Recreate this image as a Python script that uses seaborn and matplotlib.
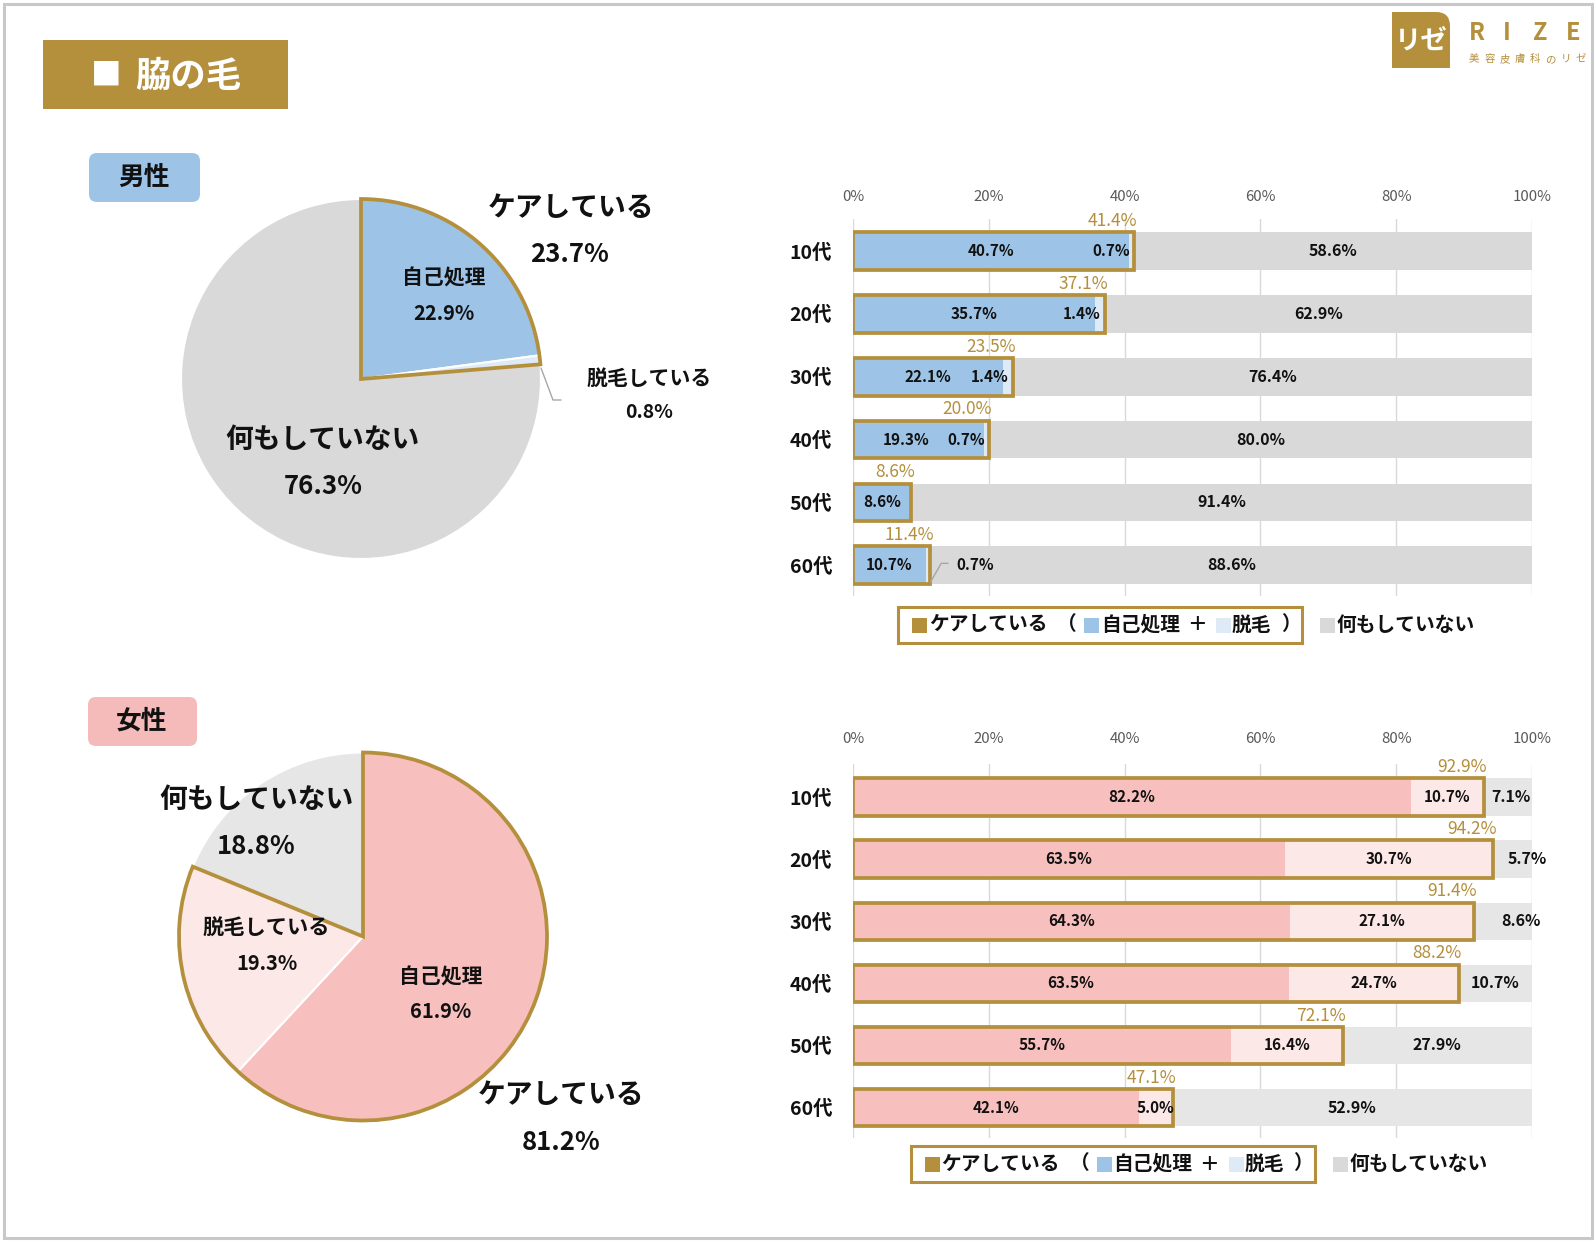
import numpy as np
import pandas as pd
import matplotlib
matplotlib.use("Agg")
import matplotlib.pyplot as plt
import seaborn as sns
from matplotlib.patches import Rectangle, FancyBboxPatch
from matplotlib.lines import Line2D

# ---------------- data ----------------
ages = ["10代", "20代", "30代", "40代", "50代", "60代"]
tick_vals = [0, 20, 40, 60, 80, 100]
tick_labels = ["0%", "20%", "40%", "60%", "80%", "100%"]

male_self = [40.7, 35.7, 22.1, 19.3, 8.6, 10.7]
male_hair = [0.7, 1.4, 1.4, 0.7, 0.0, 0.7]
male_none = [58.6, 62.9, 76.4, 80.0, 91.4, 88.6]
male_care = [41.4, 37.1, 23.5, 20.0, 8.6, 11.4]

female_self = [82.2, 63.5, 64.3, 63.5, 55.7, 42.1]
female_hair = [10.7, 30.7, 27.1, 24.7, 16.4, 5.0]
female_none = [7.1, 5.7, 8.6, 10.7, 27.9, 52.9]
female_care = [92.9, 94.2, 91.4, 88.2, 72.1, 47.1]

pie_names = ["自己処理", "脱毛している", "何もしていない"]
male_pie = [22.9, 0.8, 76.3]
female_pie = [61.9, 19.3, 18.8]
male_pie_care = 23.7
female_pie_care = 81.2

# label nudges (layout only, in % units)
male_self_shift = [0, 0, 0, -1.8, 0, 0]
female_none_shift = [0.4, 2.1, 2.7, 0, 0, 0]

# ---------------- style ----------------
GOLD = "#b48f3c"
M_SELF, M_HAIR, M_NONE = "#9dc3e6", "#deebf7", "#d9d9d9"
F_SELF, F_HAIR, F_NONE = "#f7c0be", "#fde8e8", "#e6e6e6"
TXT = "#111111"

sns.set_theme(style="white")
plt.rcParams["font.family"] = ["Noto Sans CJK JP", "DejaVu Sans"]

W, H = 1596, 1245
fig = plt.figure(figsize=(W / 100, H / 100), dpi=100)
fig.patch.set_facecolor("white")


def axes_px(l, t, r, b):
    return fig.add_axes([l / W, 1 - b / H, (r - l) / W, (b - t) / H])


# ---------------- stacked bars ----------------
def bar_panel(box, ylim, selfv, hairv, nonev, carev, c_self, c_hair, c_none,
              tick_pad, male, self_shift, none_shift):
    ax = axes_px(*box)
    s = np.array(selfv, float)
    h = np.array(hairv, float)
    n = np.array(nonev, float)
    scale = 100.0 / (s + h + n)          # 100% stacked
    s_n, h_n, n_n = s * scale, h * scale, n * scale
    care_end = s_n + h_n
    total = care_end + n_n
    df = pd.DataFrame({"age": ages, "total": total, "care": care_end, "self": s_n})
    kw = dict(y="age", orient="h", errorbar=None, saturation=1, width=0.6,
              ax=ax, linewidth=0)
    sns.barplot(data=df, x="total", color=c_none, **kw)
    sns.barplot(data=df, x="care", color=c_hair, **kw)
    sns.barplot(data=df, x="self", color=c_self, **kw)
    # gold outline of "care" part
    ax.barh(np.arange(len(ages)), care_end, height=0.6, facecolor="none",
            edgecolor=GOLD, linewidth=2.7, zorder=5)

    lab = dict(fontsize=11, fontweight="bold", color=TXT, zorder=6, va="center")
    for i in range(len(ages)):
        ax.text(s_n[i] / 2 + self_shift[i], i, f"{selfv[i]:.1f}%", ha="center", **lab)
        if hairv[i] > 0:
            if male:
                if i == len(ages) - 1:
                    ce = care_end[i]
                    ax.plot([ce, ce + 1.6, ce + 2.6], [i + 0.27, i - 0.03, i - 0.03],
                            color="#a6a6a6", lw=1, zorder=6, clip_on=False)
                    ax.text(ce + 3.8, i, f"{hairv[i]:.1f}%", ha="left", **lab)
                else:
                    ax.text(care_end[i] - 0.6, i, f"{hairv[i]:.1f}%", ha="right", **lab)
            else:
                ax.text(s_n[i] + h_n[i] / 2, i, f"{hairv[i]:.1f}%", ha="center", **lab)
        ax.text(care_end[i] + n_n[i] / 2 + none_shift[i], i, f"{nonev[i]:.1f}%",
                ha="center", va="center", fontsize=11.5, fontweight="bold",
                color=TXT, zorder=6)
        ax.text(care_end[i] + 0.5, i - 0.48, f"{carev[i]:.1f}%", ha="right",
                va="center", fontsize=12.5, color=GOLD, zorder=6)

    ax.set_xlim(0, 100)
    ax.set_ylim(*ylim)
    ax.set_xlabel("")
    ax.set_ylabel("")
    ax.xaxis.tick_top()
    ax.set_xticks(tick_vals)
    ax.set_xticklabels(tick_labels)
    ax.set_yticks(range(len(ages)))
    ax.set_yticklabels(ages, fontweight="bold")
    ax.tick_params(axis="x", length=0, pad=tick_pad, labelsize=10.8,
                   labelcolor="#595959")
    ax.tick_params(axis="y", length=0, pad=15, labelsize=14, labelcolor=TXT)
    ax.grid(axis="x", color="#d9d9d9", linewidth=1)
    ax.set_axisbelow(True)
    for sp in ax.spines.values():
        sp.set_visible(False)
    ax.patch.set_alpha(0)
    return ax


bar_panel((853, 219, 1532, 596), (5.49, -0.51), male_self, male_hair, male_none,
          male_care, M_SELF, M_HAIR, M_NONE, 11, True, male_self_shift,
          [0] * 6)
bar_panel((853, 764, 1532, 1138), (5.49, -0.53), female_self, female_hair,
          female_none, female_care, F_SELF, F_HAIR, F_NONE, 13, False, [0] * 6,
          female_none_shift)


# ---------------- pies ----------------
def pie_panel(cx, cy, R, vals, colors, care):
    m = 1.05
    ax = axes_px(cx - R * m, cy - R * m, cx + R * m, cy + R * m)
    ax.pie(vals, colors=colors, startangle=90, counterclock=False,
           wedgeprops=dict(edgecolor="white", linewidth=1.5))
    wedges, _ = ax.pie([care, 100 - care], startangle=90, counterclock=False,
                       colors=["none", "none"],
                       wedgeprops=dict(edgecolor=GOLD, linewidth=2.7, fill=False))
    wedges[1].set_visible(False)
    ax.set_xlim(-m, m)
    ax.set_ylim(-m, m)
    ax.set_aspect("equal")
    return ax


pie_panel(361, 379, 180, male_pie, [M_SELF, M_HAIR, M_NONE], male_pie_care)
pie_panel(363, 936.5, 184, female_pie, [F_SELF, F_HAIR, F_NONE], female_pie_care)

# ---------------- overlay (decorations, pie labels, legends) ----------------
ov = fig.add_axes([0, 0, 1, 1])
ov.set_xlim(0, W)
ov.set_ylim(H, 0)
ov.axis("off")


def T(x, y, s, size, weight="bold", color=TXT, ha="center"):
    ov.text(x, y, s, fontsize=size, fontweight=weight, color=color, ha=ha,
            va="center")


# outer frame
ov.add_patch(Rectangle((4, 4), 1588, 1234, fill=False, edgecolor="#c8c8c8", lw=2.2))

# title banner
ov.add_patch(Rectangle((43, 40), 245, 69, facecolor=GOLD, edgecolor="none"))
T(91, 76, "■", 22, color="white", ha="left")
T(135, 76, "脇の毛", 25.5, color="white", ha="left")

# logo
ov.add_patch(FancyBboxPatch((1392, 12), 58, 56, boxstyle="round,pad=0,rounding_size=14",
                            facecolor=GOLD, edgecolor="none"))
ov.add_patch(Rectangle((1392, 12), 30, 56, facecolor=GOLD, edgecolor="none"))
ov.add_patch(Rectangle((1392, 40), 58, 28, facecolor=GOLD, edgecolor="none"))
T(1421, 41, "リゼ", 19, color="white")
for ch, x in zip(["R", "I", "Z", "E"], [1477, 1507, 1540, 1573]):
    T(x, 33, ch, 17, color=GOLD)
for k, ch in enumerate("美容皮膚科のリゼ"):
    T(1474 + k * 15.3, 59, ch, 7.5, weight="normal", color=GOLD)

# section labels
ov.add_patch(FancyBboxPatch((89, 153), 111, 49, boxstyle="round,pad=0,rounding_size=8",
                            facecolor="#9dc3e6", edgecolor="none"))
T(144, 177, "男性", 18.5)
ov.add_patch(FancyBboxPatch((88, 697), 109, 49, boxstyle="round,pad=0,rounding_size=8",
                            facecolor="#f5baba", edgecolor="none"))
T(142, 721, "女性", 18.5)

# male pie labels
T(571, 208, "ケアしている", 20)
T(570, 254, f"{male_pie_care:.1f}%", 18.5)
T(444, 278, pie_names[0], 15)
T(444, 313, f"{male_pie[0]:.1f}%", 14.5)
T(649, 378, pie_names[1], 15)
T(649, 413, f"{male_pie[1]:.1f}%", 14)
T(322, 440, pie_names[2], 20)
T(323, 486, f"{male_pie[2]:.1f}%", 18.5)
ov.add_line(Line2D([541, 553, 561], [368, 400, 400], color="#a6a6a6", lw=1))

# female pie labels
T(256, 800, pie_names[2], 20)
T(256, 847, f"{female_pie[2]:.1f}%", 18.5)
T(266, 928, pie_names[1], 15.3)
T(267, 963, f"{female_pie[1]:.1f}%", 14.5)
T(441, 977, pie_names[0], 15)
T(441, 1012, f"{female_pie[0]:.1f}%", 14.5)
T(561, 1095, "ケアしている", 20)
T(561, 1142, f"{female_pie_care:.1f}%", 18.5)


# legends
def legend(dx, dy, c_self, c_hair, c_none):
    cy = 625 + dy
    ov.add_patch(Rectangle((898 + dx, 607 + dy), 404, 36, fill=False,
                           edgecolor=GOLD, lw=2.2))
    for x, c in [(912, GOLD), (1084, c_self), (1216, c_hair), (1320, c_none)]:
        ov.add_patch(Rectangle((x + dx, cy - 7.5), 15, 15, facecolor=c, edgecolor="none"))
    for x, s in [(929, "ケアしている"), (1057, "（"), (1101, "自己処理"), (1187, "＋"),
                 (1232, "脱毛"), (1281, "）"), (1337, "何もしていない")]:
        T(x + dx, cy, s, 14.2, ha="left")


legend(0, 0, M_SELF, M_HAIR, M_NONE)
legend(12.5, 539, M_SELF, M_HAIR, M_NONE)

fig.savefig("out.png", dpi=100)
